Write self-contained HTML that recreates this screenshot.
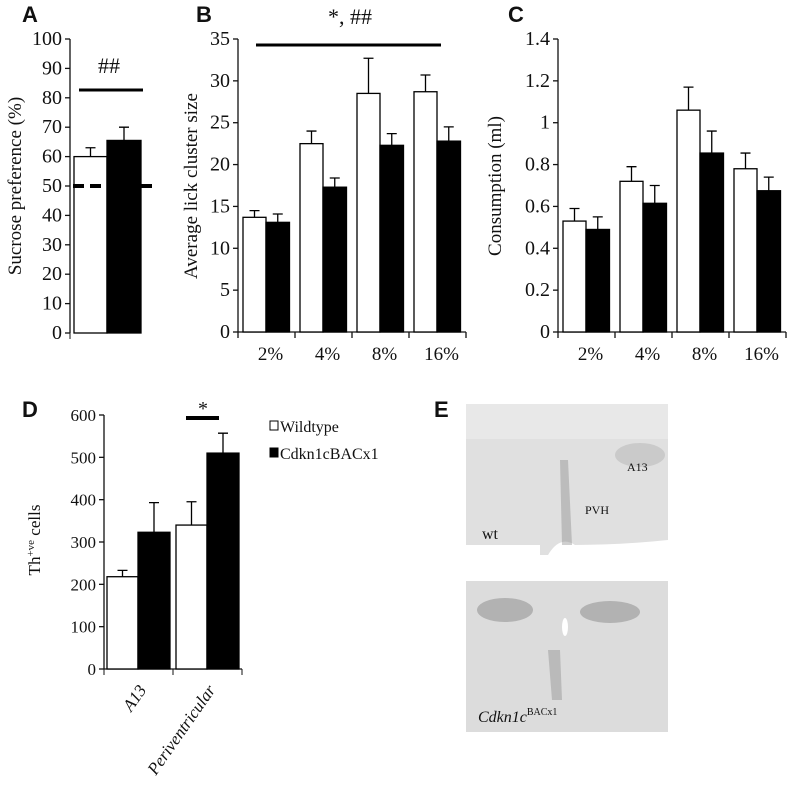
<!DOCTYPE html>
<html><head><meta charset="utf-8"><style>
body{margin:0;background:#fff}
svg text{font-family:"Liberation Serif",serif;fill:#111}
.lbl{font-family:"Liberation Sans",sans-serif;font-weight:bold;font-size:22px}
</style></head><body>
<svg id="s" width="800" height="782" xmlns="http://www.w3.org/2000/svg">
<text class="lbl" x="22" y="22">A</text>
<text class="lbl" x="196" y="22">B</text>
<text class="lbl" x="508" y="22">C</text>
<text class="lbl" x="22" y="417">D</text>
<text class="lbl" x="434" y="417">E</text>
<g id="ga"></g><g id="gb"></g><g id="gc"></g><g id="gd"></g>
<g>
<rect x="466" y="404" width="202" height="151" fill="#e0e0e0"/>
<rect x="466" y="404" width="202" height="35" fill="#e8e8e8"/>
<path d="M466 545 L540 545 L540 555 L466 555Z" fill="#fff"/>
<path d="M548 555 Q560 535 575 545 Q620 545 668 540 L668 555Z" fill="#fff"/>
<path d="M560 460 L568 460 L572 545 L562 545Z" fill="#888" opacity="0.4"/>
<ellipse cx="640" cy="455" rx="25" ry="12" fill="#aaa" opacity="0.4"/>
<text x="627" y="471" font-size="12">A13</text>
<text x="585" y="514" font-size="12">PVH</text>
<text x="482" y="539" font-size="16">wt</text>
</g>
<g>
<rect x="466" y="581" width="202" height="151" fill="#dcdcdc"/>
<ellipse cx="505" cy="610" rx="28" ry="12" fill="#888" opacity="0.5"/>
<ellipse cx="610" cy="612" rx="30" ry="11" fill="#888" opacity="0.5"/>
<ellipse cx="565" cy="627" rx="3" ry="9" fill="#fff"/>
<path d="M548 650 L560 650 L562 700 L552 700Z" fill="#888" opacity="0.4"/>
<text x="478" y="722" font-size="16" font-style="italic">Cdkn1c<tspan font-size="10" font-style="normal" dy="-7">BACx1</tspan></text>
</g>
</svg>
<script>
// Panel A data
const aCats=["WT","Cdkn1cBACx1"];
const aVals=[60,65.5];
const aErr=[63,70];
const aTicks=[0,10,20,30,40,50,60,70,80,90,100];
// Panel B data
const bCats=["2%","4%","8%","16%"];
const bWhite=[13.7,22.5,28.5,28.7];
const bWhiteErr=[14.5,24,32.7,30.7];
const bBlack=[13.1,17.3,22.3,22.8];
const bBlackErr=[14.1,18.4,23.7,24.5];
const bTicks=[0,5,10,15,20,25,30,35];
// Panel C data
const cCats=["2%","4%","8%","16%"];
const cWhite=[0.53,0.72,1.06,0.78];
const cWhiteErr=[0.59,0.79,1.17,0.855];
const cBlack=[0.49,0.615,0.855,0.675];
const cBlackErr=[0.55,0.70,0.96,0.74];
const cTicks=["0","0.2","0.4","0.6","0.8","1","1.2","1.4"];
// Panel D data
const dCats=["A13","Periventricular"];
const dWhite=[218,340];
const dWhiteErr=[233,395];
const dBlack=[323,510];
const dBlackErr=[393,557];
const dTicks=[0,100,200,300,400,500,600];

const NS="http://www.w3.org/2000/svg";
function mk(g,tag,at,txt){const e=document.createElementNS(NS,tag);for(const k in at)e.setAttribute(k,at[k]);if(txt!=null)e.textContent=txt;g.appendChild(e);return e;}
function yScale(y0,y1,max){return v=>y0-(v/max)*(y0-y1);}
function axis(g,x,y0,y1,ticks,max,fs,xend,pfx){
  const ys=yScale(y0,y1,max);
  let l=mk(g,'line',{x1:x,y1:y1,x2:x,y2:y0,stroke:'#111','stroke-width':1.3});
  
  ticks.forEach(t=>{const v=+t;const y=ys(v);
    mk(g,'line',{x1:x-5,y1:y,x2:x,y2:y,stroke:'#111','stroke-width':1.3});
    let tx=mk(g,'text',{x:x-8,y:y+6,'text-anchor':'end','font-size':fs},String(t));
    });
  let xl=mk(g,'line',{x1:x,y1:y0,x2:xend,y2:y0,stroke:'#111','stroke-width':1.3});
  
  return ys;
}
function bar(g,x,w,v,e,ys,y0,black,name){
  let r=mk(g,'rect',{x:x,y:ys(v),width:w,height:y0-ys(v),fill:black?'#000':'#fff',stroke:'#000','stroke-width':1.3});
  
  const cx=x+w/2;
  let el=mk(g,'path',{d:`M${cx} ${ys(v)} V${ys(e)} M${cx-5} ${ys(e)} H${cx+5}`,stroke:'#000','stroke-width':1.3,fill:'none'});
  
}
// A
(function(){const g=document.getElementById('ga');const y0=333,y1=39;
 const ys=axis(g,70,y0,y1,aTicks,100,20,70,'a');
 mk(g,'line',{x1:70,y1:y0,x2:70,y2:y0+6,stroke:'#111'});
 bar(g,74,33,aVals[0],aErr[0],ys,y0,false,'bar-a-wildtype');
 bar(g,107,34,aVals[1],aErr[1],ys,y0,true,'bar-a-cdkn1c');
 let d=mk(g,'line',{x1:73,y1:ys(50),x2:152,y2:ys(50),stroke:'#000','stroke-width':4,'stroke-dasharray':'11,6'});
 
 mk(g,'line',{x1:79,y1:90,x2:143,y2:90,stroke:'#000','stroke-width':3});
 mk(g,'text',{x:109,y:73,'text-anchor':'middle','font-size':22},'##');
 let t=mk(g,'text',{x:0,y:0,'text-anchor':'middle','font-size':19,transform:'translate(21,186) rotate(-90)'},'Sucrose preference (%)');
 
})();
function grouped(gid,ax,y0,y1,ticks,max,cats,wv,we,bv,be,title,pfx,tx){
 const g=document.getElementById(gid);const ys=axis(g,ax,y0,y1,ticks,max,20,ax+228,pfx);
 const step=57;
 for(let i=0;i<=cats.length;i++)mk(g,'line',{x1:ax+i*step,y1:y0,x2:ax+i*step,y2:y0+6,stroke:'#111','stroke-width':1.3});
 cats.forEach((c,i)=>{const x=ax+i*step;
  bar(g,x+5,23,wv[i],we[i],ys,y0,false,'bar-'+pfx+'-wt-'+c);
  bar(g,x+28,23.5,bv[i],be[i],ys,y0,true,'bar-'+pfx+'-cdkn1c-'+c);
  let t=mk(g,'text',{x:x+step/2+4,y:y0+28,'text-anchor':'middle','font-size':19},c);
  });
 let t=mk(g,'text',{x:0,y:0,'text-anchor':'middle','font-size':19,transform:`translate(${tx},186) rotate(-90)`},title);
 
}
grouped('gb',238,332,39,bTicks,35,bCats,bWhite,bWhiteErr,bBlack,bBlackErr,'Average lick cluster size','b',197);
(function(){const g=document.getElementById('gb');
 mk(g,'line',{x1:256,y1:45,x2:441,y2:45,stroke:'#000','stroke-width':3});
 mk(g,'text',{x:350,y:24,'text-anchor':'middle','font-size':22},'*, ##');})();
grouped('gc',558,332,39,cTicks,1.4,cCats,cWhite,cWhiteErr,cBlack,cBlackErr,'Consumption (ml)','c',501);
// D
(function(){const g=document.getElementById('gd');const y0=669,y1=415;
 const ys=axis(g,104,y0,y1,dTicks,600,17,242,'d');
 [104,173,242].forEach(x=>mk(g,'line',{x1:x,y1:y0,x2:x,y2:y0+6,stroke:'#111'}));
 dCats.forEach((c,i)=>{const x=107+i*69;
  bar(g,x,31,dWhite[i],dWhiteErr[i],ys,y0,false,'bar-d-wt-'+c);
  bar(g,x+31,32,dBlack[i],dBlackErr[i],ys,y0,true,'bar-d-cdkn1c-'+c);
  let t=mk(g,'text',{x:0,y:0,'text-anchor':'end','font-size':17,'font-style':'italic',transform:`translate(${x+40},690) rotate(-55)`},c);
  });
 mk(g,'line',{x1:186,y1:418,x2:219,y2:418,stroke:'#000','stroke-width':4});
 mk(g,'text',{x:203,y:415,'text-anchor':'middle','font-size':20},'*');
 let t=mk(g,'text',{x:0,y:0,'text-anchor':'middle','font-size':17,transform:'translate(40,540) rotate(-90)'},'');
 t.innerHTML='Th<tspan font-size="11" dy="-6">+ve</tspan><tspan dy="6"> cells</tspan>';
 
 let lg=mk(g,'g',{});
 mk(lg,'rect',{x:270,y:421,width:8,height:9,fill:'#fff',stroke:'#000'});
 mk(lg,'text',{x:280,y:432,'font-size':16},'Wildtype');
 mk(lg,'rect',{x:270,y:448,width:8,height:9,fill:'#000',stroke:'#000'});
 mk(lg,'text',{x:280,y:459,'font-size':16},'Cdkn1cBACx1');
})();
</script>
</body></html>
